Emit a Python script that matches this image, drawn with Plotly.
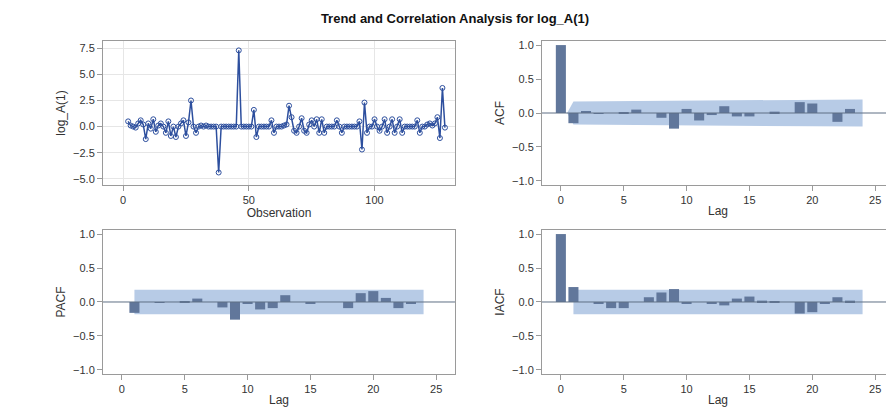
import plotly.graph_objects as go
from plotly.subplots import make_subplots

# series values
series = [0.5, 0.1, 0.0, -0.1, 0.3, 0.6, 0.2, -1.2, 0.3, -0.2, 0.7, -0.5, 0.1, 0.3, 0.0, -0.6,
          0.5, -0.9, 0.0, -1.0, 0.0, 0.3, 0.6, -0.9, 0.4, 2.5, 0.0, -0.6, 0.0, 0.1, 0.0, 0.1,
          0.0, 0.0, 0.0, 0.0, -4.4, 0.0, 0.0, 0.0, 0.0, 0.0, 0.0, 0.0, 7.3, 0.0, 0.0,
          0.0, 0.0, 0.0, 1.6, -1.0, 0.0, 0.0, 0.0, 0.0, 0.0, 0.6, -0.6, 0.0, 0.0, 0.0,
          0.1, 0.2, 2.0, 0.9, -0.4, -0.6, 0.0, 0.8, -0.4, -0.6, 0.2, 0.6, 0.0, 0.7, -0.6,
          0.7, -0.6, 0.0, 0.0, 0.0, 0.0, 0.6, 0.0, -0.6, 0.0, 0.0, 0.0, 0.0, 0.0, 0.0,
          0.5, -2.2, 2.3, -0.6, 0.0, 0.0, 0.7, 0.0, -0.4, 0.0, 0.7, -0.6, 0.0, 0.7, -0.6,
          0.0, 0.7, -0.6, 0.0, 0.0, 0.0, 0.0, 0.0, 0.6, -0.6, 0.0, 0.0, 0.2, 0.3, 0.1,
          0.3, 0.9, -1.1, 3.7, -0.1]
obs = list(range(2, 2 + len(series)))

acf_lag = list(range(0, 24))
acf = [1.0, -0.15, 0.03, -0.01, 0.0, 0.01, 0.05, 0.0, -0.07, -0.23, 0.06, -0.11, -0.03,
       0.1, -0.05, -0.05, 0.0, 0.02, 0.0, 0.16, 0.14, 0.0, -0.13, 0.06]
pacf_lag = list(range(1, 25))
pacf = [-0.16, 0.0, -0.01, 0.0, 0.01, 0.05, 0.0, -0.08, -0.26, -0.02, -0.11, -0.09, 0.1,
        0.0, -0.03, 0.0, 0.0, -0.09, 0.13, 0.16, 0.06, -0.09, -0.02, 0.0]
iacf_lag = list(range(0, 25))
iacf = [1.0, 0.22, 0.0, -0.02, -0.09, -0.09, 0.0, 0.07, 0.14, 0.19, -0.02, 0.0, -0.02,
        -0.05, 0.05, 0.08, 0.02, 0.01, 0.0, -0.17, -0.15, -0.02, 0.07, 0.02, 0.0]

acf_band_x = [0.5, 1, 24]
acf_band_up = [0.0, 0.17, 0.2]
acf_band_lo = [0.0, -0.17, -0.2]
band_x = [1, 24]
pacf_band = 0.18
iacf_band = 0.18

bar_col = "#61779b"
band_col = "#b7cbe6"
axis_col = "#9a9a9a"

fig = make_subplots(rows=2, cols=2, horizontal_spacing=0.11, vertical_spacing=0.135)

fig.add_trace(go.Scatter(x=obs, y=series, mode="lines+markers",
                         line=dict(color="#2d4f9e", width=1.5),
                         marker=dict(symbol="circle-open", size=5, color="#2d4f9e")), 1, 1)


def band(xs, up, lo, xref, yref):
    pts = list(zip(xs, up)) + list(zip(xs[::-1], lo[::-1]))
    path = "M " + " L ".join(f"{x},{y}" for x, y in pts) + " Z"
    fig.add_shape(type="path", path=path, xref=xref, yref=yref, fillcolor=band_col,
                  line=dict(width=0), layer="below")


band(acf_band_x, acf_band_up, acf_band_lo, "x2", "y2")
band(band_x, [pacf_band] * 2, [-pacf_band] * 2, "x3", "y3")
band(band_x, [iacf_band] * 2, [-iacf_band] * 2, "x4", "y4")

for lag, val, r, c in [(acf_lag, acf, 1, 2), (pacf_lag, pacf, 2, 1), (iacf_lag, iacf, 2, 2)]:
    fig.add_trace(go.Bar(x=lag, y=val, width=0.8, marker=dict(color=bar_col, line=dict(width=0))), r, c)

ax = dict(showline=True, mirror=True, linecolor=axis_col, ticks="outside", tickcolor=axis_col,
          tickfont=dict(size=11, color="#333"), zeroline=False)
tf = dict(size=12, color="#333")
fig.update_xaxes(**ax)
fig.update_yaxes(**ax)
fig.update_xaxes(range=[-8, 132], tickvals=[0, 50, 100], showgrid=True, gridcolor="#e6e6e6",
                 title=dict(text="Observation", standoff=1, font=tf), row=1, col=1)
fig.update_yaxes(range=[-5.6, 8.2], tickvals=[-5, -2.5, 0, 2.5, 5, 7.5], tickformat=".1f",
                 showgrid=True, gridcolor="#e6e6e6", title=dict(text="log_A(1)", standoff=4, font=tf),
                 row=1, col=1)
for r, c, t in [(1, 2, "ACF"), (2, 1, "PACF"), (2, 2, "IACF")]:
    fig.update_xaxes(range=[-1.5, 26.5], tickvals=[0, 5, 10, 15, 20, 25], showgrid=False,
                     title=dict(text="Lag", standoff=1, font=tf), row=r, col=c)
    fig.update_yaxes(range=[-1.06, 1.06], tickvals=[-1, -0.5, 0, 0.5, 1], tickformat=".1f",
                     showgrid=False, title=dict(text=t, standoff=4, font=tf), row=r, col=c)
    fig.add_hline(y=0, line=dict(color="#5f6f84", width=1), row=r, col=c)

fig.update_layout(width=894, height=411, plot_bgcolor="white", paper_bgcolor="white",
                  showlegend=False, bargap=0.2,
                  font=dict(family="Liberation Sans, Arial", size=12, color="#333"),
                  title=dict(text="<b>Trend and Correlation Analysis for log_A(1)</b>", x=0.5,
                             y=0.985, font=dict(size=13, color="#111")),
                  margin=dict(l=95, r=8, t=33, b=45))
fig.write_html("out.html")
